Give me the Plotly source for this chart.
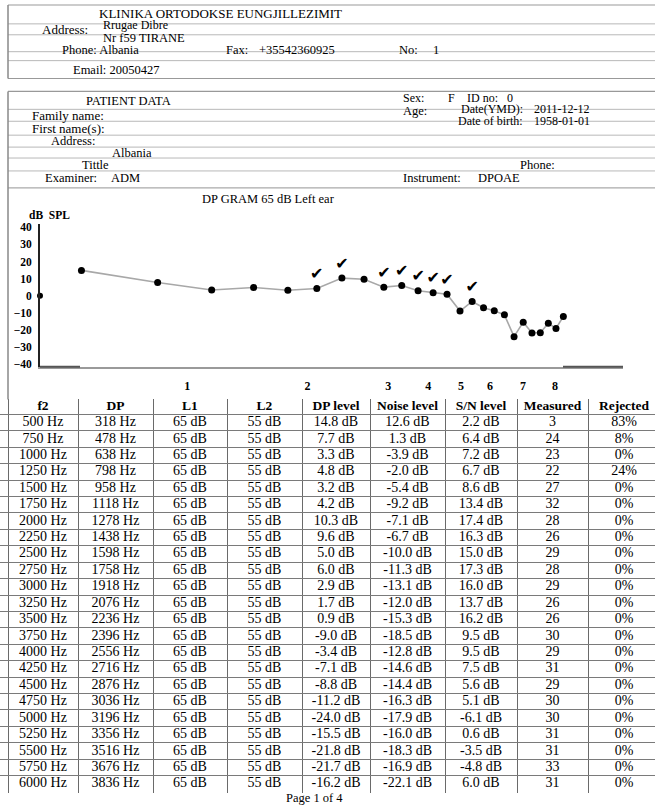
import math
import plotly.graph_objects as go

W, H = 655, 807

# ---------------- data ----------------
f2_hz = [500, 750, 1000, 1250, 1500, 1750, 2000, 2250, 2500, 2750, 3000, 3250,
         3500, 3750, 4000, 4250, 4500, 4750, 5000, 5250, 5500, 5750, 6000]
dp_hz = [318, 478, 638, 798, 958, 1118, 1278, 1438, 1598, 1758, 1918, 2076,
         2236, 2396, 2556, 2716, 2876, 3036, 3196, 3356, 3516, 3676, 3836]
l1_db = [65] * 23
l2_db = [55] * 23
dp_level = [14.8, 7.7, 3.3, 4.8, 3.2, 4.2, 10.3, 9.6, 5.0, 6.0, 2.9, 1.7,
            0.9, -9.0, -3.4, -7.1, -8.8, -11.2, -24.0, -15.5, -21.8, -21.7, -16.2]
noise_level = [12.6, 1.3, -3.9, -2.0, -5.4, -9.2, -7.1, -6.7, -10.0, -11.3, -13.1, -12.0,
               -15.3, -18.5, -12.8, -14.6, -14.4, -16.3, -17.9, -16.0, -18.3, -16.9, -22.1]
sn_level = [2.2, 6.4, 7.2, 6.7, 8.6, 13.4, 17.4, 16.3, 15.0, 17.3, 16.0, 13.7,
            16.2, 9.5, 9.5, 7.5, 5.6, 5.1, -6.1, 0.6, -3.5, -4.8, 6.0]
measured = [3, 24, 23, 22, 27, 32, 28, 26, 29, 28, 29, 26,
            26, 30, 29, 31, 29, 30, 30, 31, 31, 33, 31]
rejected_pct = [83, 8, 0, 24, 0, 0, 0, 0, 0, 0, 0, 0,
                0, 0, 0, 0, 0, 0, 0, 0, 0, 0, 0]

# points drawn in the DP-gram beyond the first table page
extra_f2_hz = [6250, 6500]
extra_dp_level = [-19.2, -12.2]

checked_f2 = [1750, 2000, 2500, 2750, 3000, 3250, 3500, 4000]

x_tick_hz = [878, 1665, 2558, 3165, 3772, 4401, 5246, 6218]
x_tick_text = ["1", "2", "3", "4", "5", "6", "7", "8"]
y_tick_vals = [40, 30, 20, 10, 0, -10, -20, -30, -40]

header_cols = ["f2", "DP", "L1", "L2", "DP level", "Noise level", "S/N level", "Measured", "Rejected"]

# ---------------- helpers ----------------
SERIF = "Liberation Serif"


def px(x):
    return x / W


def py(y):
    return 1 - y / H


fig = go.Figure()

chart_f2 = f2_hz + extra_f2_hz
chart_dp = dp_level + extra_dp_level
marks = ["✔" if f in checked_f2 else "" for f in chart_f2]

x_range = [math.log10(401), math.log10(8929)]

fig.add_trace(go.Scatter(
    x=chart_f2, y=chart_dp, mode="lines+markers+text",
    line=dict(color="#a8a8a8", width=1.6),
    marker=dict(color="black", size=7),
    text=marks, textposition="top center",
    textfont=dict(family="DejaVu Sans", size=16, color="black"),
    cliponaxis=False, showlegend=False, hoverinfo="x+y",
))
# stray dot on the vertical axis at 0 dB
fig.add_trace(go.Scatter(
    x=[10 ** x_range[0]], y=[0], mode="markers",
    marker=dict(color="black", size=6), cliponaxis=False, showlegend=False,
))

# ---------------- table drawn on its own pixel-unit axes ----------------
col_bounds = [8, 78, 153, 227, 302, 370, 445, 517, 588, 660]
row_bounds = [400, 415] + [415 + 380 * k / 23 for k in range(1, 24)]
col_centers = [(a + b) / 2 for a, b in zip(col_bounds[:-1], col_bounds[1:])]
row_centers = [(a + b) / 2 for a, b in zip(row_bounds[:-1], row_bounds[1:])]

cols = [
    [f"{v} Hz" for v in f2_hz],
    [f"{v} Hz" for v in dp_hz],
    [f"{v} dB" for v in l1_db],
    [f"{v} dB" for v in l2_db],
    [f"{v:.1f} dB" for v in dp_level],
    [f"{v:.1f} dB" for v in noise_level],
    [f"{v:.1f} dB" for v in sn_level],
    [str(v) for v in measured],
    [f"{v}%" for v in rejected_pct],
]

for cx, head, vals in zip(col_centers, header_cols, cols):
    fig.add_trace(go.Scatter(
        x=[cx], y=row_centers[:1], text=[f"<b>{head}</b>"], mode="text",
        textfont=dict(family=SERIF, size=13.5, color="black"),
        xaxis="x2", yaxis="y2", showlegend=False, hoverinfo="skip", cliponaxis=False,
    ))
    fig.add_trace(go.Scatter(
        x=[cx] * len(vals), y=row_centers[1:], text=vals, mode="text",
        textfont=dict(family=SERIF, size=14, color="black"),
        xaxis="x2", yaxis="y2", showlegend=False, hoverinfo="skip", cliponaxis=False,
    ))

fig.update_layout(
    width=W, height=H, margin=dict(l=0, r=0, t=0, b=0),
    paper_bgcolor="white", plot_bgcolor="rgba(0,0,0,0)",
    font=dict(family=SERIF, size=12, color="black"),
    xaxis=dict(
        type="log", range=x_range, domain=[px(40), px(623)],
        showgrid=False, zeroline=False, showline=True, linecolor="#9a9a9a", linewidth=2,
        tickvals=x_tick_hz, ticktext=x_tick_text, ticks="",
        tickfont=dict(family=SERIF, size=12, color="black", weight="bold"),
        ticklabelstandoff=7, anchor="y",
    ),
    yaxis=dict(
        range=[-41.6, 42.2], domain=[py(367), py(223)],
        showgrid=False, zeroline=False, showline=True, linecolor="#222", linewidth=2,
        tickvals=y_tick_vals, ticks="",
        tickfont=dict(family=SERIF, size=11.5, color="black", weight="bold"),
        ticklabelstandoff=4, anchor="x",
    ),
    xaxis2=dict(
        range=[0, W], domain=[0, 1], anchor="y2",
        tickvals=col_bounds, showticklabels=False, ticks="",
        showgrid=True, gridcolor="#6a6a6a", gridwidth=1.2, zeroline=False, showline=False,
    ),
    yaxis2=dict(
        range=[795.8, 399.4], domain=[py(795.8), py(399.4)], anchor="x2",
        tickvals=row_bounds, showticklabels=False, ticks="",
        showgrid=True, gridcolor="#7a7a7a", gridwidth=1.3, zeroline=False, showline=False,
    ),
)

# darker segments of the x-axis line
for xa, xb in [(40, 80), (563, 623)]:
    fig.add_shape(type="line", xref="paper", yref="paper",
                  x0=px(xa), x1=px(xb), y0=py(367), y1=py(367),
                  line=dict(color="#555", width=2))

# ---------------- form lines / boxes ----------------
def hline(y, x0=8, x1=655, color="#b8b8b8", width=1):
    fig.add_shape(type="line", xref="paper", yref="paper",
                  x0=px(x0), x1=px(x1), y0=py(y), y1=py(y),
                  line=dict(color=color, width=width))


def vline(x, y0, y1, color="#888", width=1.5):
    fig.add_shape(type="line", xref="paper", yref="paper",
                  x0=px(x), x1=px(x), y0=py(y0), y1=py(y1),
                  line=dict(color=color, width=width))


# header box
hline(3, color="#999", width=1.2)
hline(77, color="#999", width=1.2)
for y in [22, 33, 50, 59]:
    hline(y)
vline(8, 3, 77)

# patient / chart box
hline(90, color="#999", width=1.2)
for y in [108, 120, 134, 146, 157, 170]:
    hline(y)
hline(187, color="#aaa", width=1.2)
vline(8, 90, 400)


def text(x, y, s, size=12.5, anchor="left", bold=False):
    fig.add_annotation(
        x=px(x), y=py(y), xref="paper", yref="paper", text=s, showarrow=False,
        xanchor=anchor, yanchor="middle", borderpad=0,
        font=dict(family=SERIF, size=size, color="black", weight="bold" if bold else "normal"),
    )


# header texts
text(98, 11.5, "KLINIKA ORTODOKSE EUNGJILLEZIMIT", 13)
text(41, 28, "Address:", 13)
text(102, 23, "Rrugae Dibre", 12)
text(102, 36, "Nr f59 TIRANE", 12.5)
text(61, 48, "Phone: Albania", 12.5)
text(225, 48, "Fax:", 12.5)
text(258, 48, "+35542360925", 12.5)
text(398, 48, "No:", 12.5)
text(432, 48, "1", 12.5)
text(72, 68, "Email: 20050427", 12.5)

# patient data
text(85, 100, "PATIENT DATA", 12.5)
text(31, 114, "Family name:", 13)
text(31, 127, "First name(s):", 13)
text(50, 140, "Address:", 12.5)
text(111, 152, "Albania", 12.5)
text(81, 164, "Tittle", 12.5)
text(44, 177, "Examiner:", 12.5)
text(110, 177, "ADM", 12.5)
text(402, 96.5, "Sex:", 12)
text(447, 96.5, "F", 12)
text(466, 96.5, "ID no:", 12)
text(506, 96.5, "0", 12)
text(402, 110, "Age:", 12.5)
text(460, 107.5, "Date(YMD):", 12)
text(533, 107.5, "2011-12-12", 12)
text(457, 119.5, "Date of birth:", 12)
text(533, 119.5, "1958-01-01", 12)
text(519, 164, "Phone:", 12.5)
text(402, 177, "Instrument:", 12.5)
text(477, 177, "DPOAE", 12.5)

# chart labels
text(268, 198, "DP GRAM 65 dB Left ear", 12.5, anchor="center")
text(28, 214, "dB  SPL", 11.5, bold=True)

text(314, 801, "Page 1 of 4", 12.5, anchor="center")

fig.write_html(
    "out.html",
    config={"displayModeBar": False},
    post_script="document.body.style.margin='0';document.body.style.overflow='hidden';",
)
